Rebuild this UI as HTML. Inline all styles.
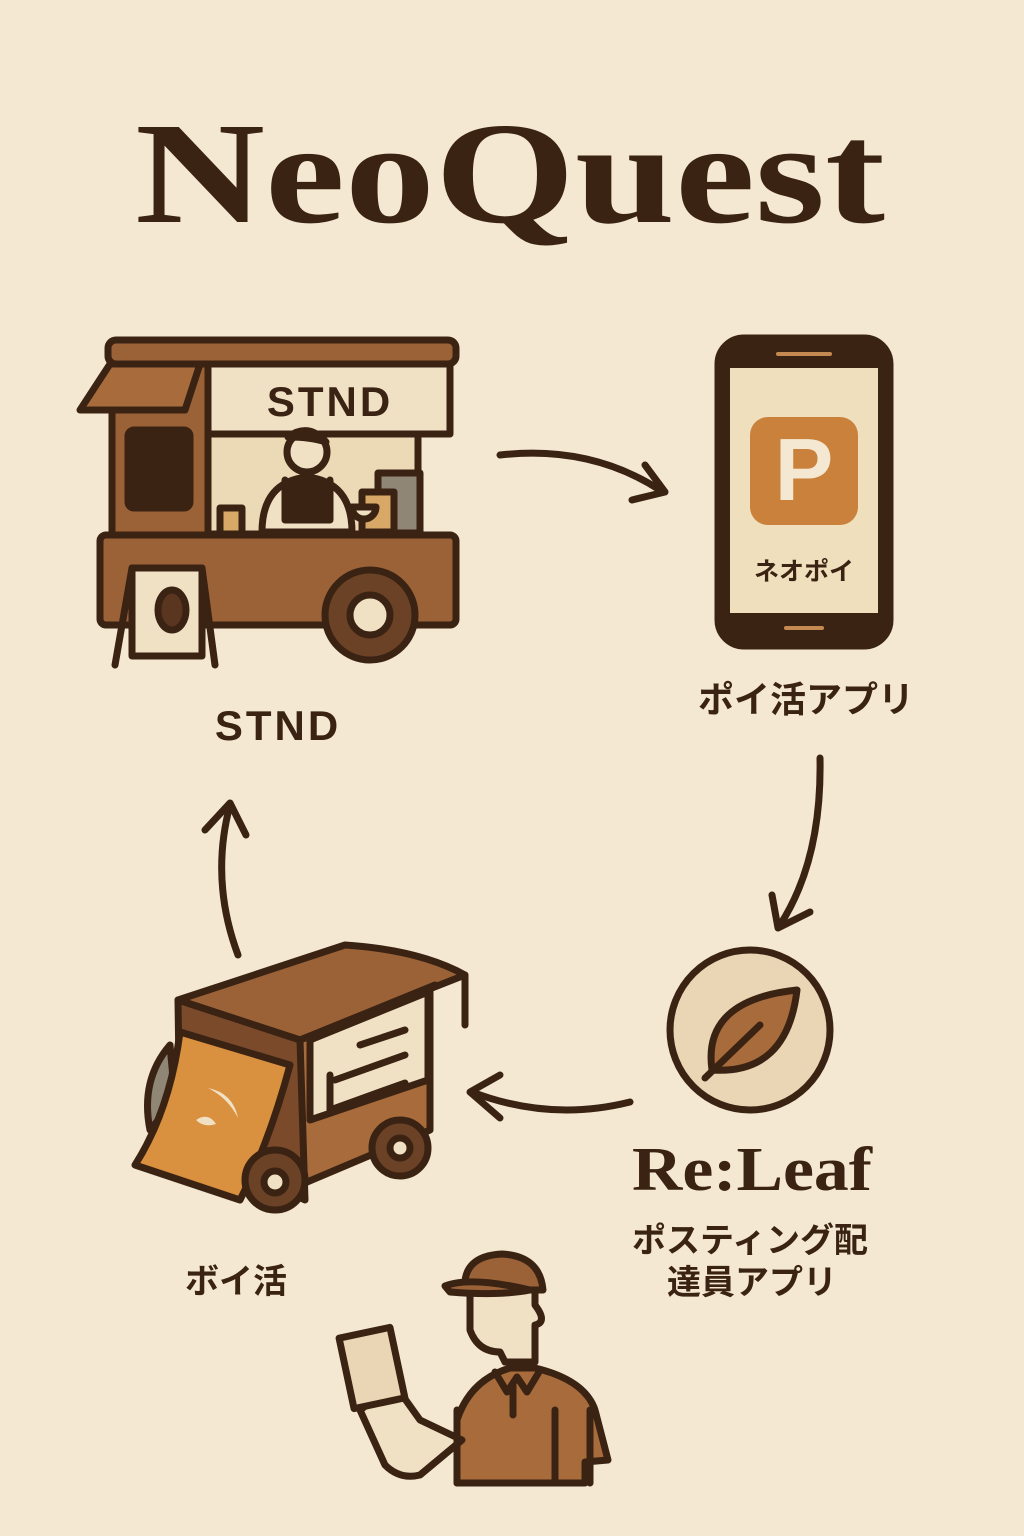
<!DOCTYPE html>
<html><head><meta charset="utf-8"><style>
html,body{margin:0;padding:0;background:#f4e8d2;}
svg{display:block}
</style></head><body>
<svg width="1024" height="1536" viewBox="0 0 1024 1536" xmlns="http://www.w3.org/2000/svg">
<rect width="1024" height="1536" fill="#f4e8d2"/>
<g font-family="'Liberation Serif',serif" font-weight="bold" fill="#3b2314">
<text x="510" y="222" font-size="145" text-anchor="middle" textLength="750" lengthAdjust="spacingAndGlyphs">NeoQuest</text>
<text x="752" y="1190" font-size="62" text-anchor="middle" textLength="240" lengthAdjust="spacingAndGlyphs">Re:Leaf</text>
</g>
<g stroke="#3b2314" stroke-width="7" stroke-linejoin="round" stroke-linecap="round">
<!-- food truck -->
<rect x="108" y="340" width="348" height="24" rx="8" fill="#9b6238"/>
<rect x="112" y="364" width="96" height="175" fill="#9b6238"/>
<rect x="208" y="364" width="242" height="70" fill="#f1e1c4"/>
<rect x="208" y="434" width="210" height="100" fill="#ecd9b6"/>
<rect x="378" y="473" width="42" height="60" fill="#8f8676"/>
<rect x="362" y="492" width="32" height="40" fill="#d7a866"/>
<polygon points="110,364 200,364 185,410 80,410" fill="#a86c3c"/>
<rect x="128" y="430" width="62" height="78" rx="6" fill="#3b2314"/>
<rect x="220" y="508" width="22" height="26" fill="#d7a866"/>
<path d="M352 507 h24 a12 12 0 0 1 -24 0z" fill="#f1e1c4"/>
<circle cx="307" cy="452" r="20" fill="#f1e1c4"/>
<path d="M262 532 q0-50 45-55 q45 5 45 55z" fill="#f1e1c4"/>
<path d="M285 480 v40 h45 v-40" fill="#3b2314"/>
<path d="M288 437 q20-15 38 5 q-15 -5 -38 -5z" fill="#3b2314"/>
<rect x="100" y="535" width="356" height="90" rx="6" fill="#9b6238"/>
<rect x="132" y="568" width="70" height="88" fill="#f1e1c4"/>
<line x1="132" y1="568" x2="115" y2="665"/><line x1="202" y1="568" x2="215" y2="665"/>
<ellipse cx="172" cy="610" rx="14" ry="20" fill="#5a3520"/>
<circle cx="370" cy="615" r="45" fill="#6b4226"/>
<circle cx="370" cy="615" r="20" fill="#f1e1c4"/>
<!-- phone -->
<rect x="718" y="338" width="172" height="308" rx="26" fill="#3b2314"/>
<rect x="730" y="368" width="148" height="245" fill="#f0dfbd" stroke="none"/>
<line x1="778" y1="354" x2="830" y2="354" stroke="#c48a52" stroke-width="4"/>
<line x1="786" y1="628" x2="822" y2="628" stroke="#c48a52" stroke-width="4"/>
<rect x="750" y="417" width="108" height="108" rx="18" fill="#c9813c" stroke="none"/>
<!-- arrows -->
<g fill="none">
<path d="M500 455 Q590 445 660 490"/><path d="M632 500 L665 492 L645 465"/>
<path d="M820 758 Q822 860 780 925"/><path d="M772 895 L778 928 L810 912"/>
<path d="M630 1102 Q550 1122 472 1092"/><path d="M500 1075 L470 1092 L500 1118"/>
<path d="M238 955 Q210 880 230 805"/><path d="M205 830 L230 803 L246 835"/>
</g>
<!-- leaf -->
<circle cx="750" cy="1030" r="80" fill="#ead6b4"/>
<path d="M712 1070 q-10-70 85-80 q-10 85 -85 80z" fill="#a86c3c"/>
<line x1="705" y1="1078" x2="760" y2="1025"/>
<!-- van -->
<path d="M178 1000 L345 945 Q420 950 465 975 L300 1040 Z" fill="#9b6238"/>
<path d="M465 975 V1025 M300 1040 L435 985" fill="none"/>
<polygon points="300,1040 430,990 430,1130 300,1185" fill="#a86c3c"/>
<polygon points="310,1040 428,992 428,1080 310,1120" fill="#f1e1c4"/>
<path d="M360 1045 L405 1030 M335 1080 L405 1055 M330 1075 V1110 L405 1083" fill="none"/>
<polygon points="178,1000 300,1040 305,1200 180,1140" fill="#7a4a2a"/>
<path d="M170 1045 Q140 1080 150 1130 L175 1100z" fill="#8f8676"/>
<path d="M180 1032 L290 1065 Q270 1140 240 1200 L135 1165 Q170 1110 180 1032z" fill="#d9903f"/>
<path d="M208 1088 q25 5 30 30 q-10-20 -30-30z M196 1120 q12-8 20 4 q-12 4 -20-4z" fill="#f1e1c4" stroke="none"/>
<circle cx="275" cy="1180" r="30" fill="#6b4226"/><circle cx="275" cy="1182" r="11" fill="#f1e1c4"/>
<circle cx="400" cy="1148" r="28" fill="#6b4226"/><circle cx="400" cy="1148" r="10" fill="#f1e1c4"/>
<!-- person -->
<path d="M470 1290 V1330 Q478 1352 500 1352 L505 1362 H535 V1325 Q548 1322 535 1305 L535 1290 Z" fill="#f1e1c4"/>
<path d="M465 1290 Q462 1256 502 1254 Q540 1256 543 1290 Z" fill="#9b6238"/>
<path d="M445 1286 Q470 1276 530 1290 Q500 1296 450 1292 Z" fill="#9b6238"/>
<path d="M457 1483 V1420 Q470 1380 510 1368 H535 Q585 1380 595 1410 L608 1460 L585 1462 V1483 Z" fill="#a86c3c"/>
<path d="M462 1440 L420 1475 Q400 1480 385 1465 L360 1410 L395 1385 L420 1420 Z" fill="#f1e1c4"/>
<rect x="346" y="1332" width="52" height="72" transform="rotate(-12 372 1368)" fill="#ead6b4"/>
<path d="M495 1372 l12 20 l10-15 l10 15 l12-20 M513 1385 v30 M457 1410 v73 M555 1410 v73 M590 1410 v73" fill="none"/>
</g>
<g font-family="'Liberation Sans','Noto Sans CJK JP',sans-serif" font-weight="bold" fill="#3b2314" text-anchor="middle">
<text x="330" y="416" font-size="42" letter-spacing="3">STND</text>
<text x="804" y="500" font-size="88" fill="#f4e8d2">P</text>
<text x="804" y="580" font-size="25">ネオポイ</text>
<text x="806" y="712" font-size="36">ポイ活アプリ</text>
<text x="278" y="740" font-size="42" letter-spacing="3">STND</text>
<text x="750" y="1252" font-size="34">ポスティング配</text>
<text x="752" y="1294" font-size="34">達員アプリ</text>
<text x="236" y="1293" font-size="34">ボイ活</text>
</g>
</svg>
</body></html>
